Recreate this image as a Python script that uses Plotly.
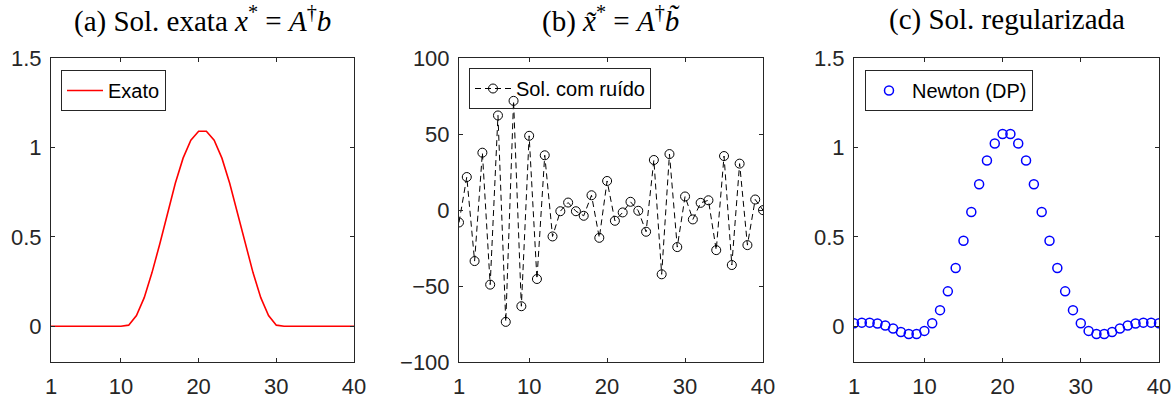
import plotly.graph_objects as go

# sample index shared by the three panels
idx = list(range(1, 41))

# (a) exact solution
x_exact = [0, 0, 0, 0, 0, 0, 0, 0, 0, 0,
           0.006, 0.06, 0.16, 0.30, 0.46, 0.63, 0.80, 0.94, 1.04, 1.09,
           1.09, 1.04, 0.94, 0.80, 0.63, 0.46, 0.30, 0.16, 0.06, 0.006,
           0, 0, 0, 0, 0, 0, 0, 0, 0, 0]

# (b) naive solution with noisy data
x_noisy = [-8.2, 21.7, -33.6, 37.7, -49.1, 62.2, -73.6, 71.8, -63.3, 48.8,
           -45.4, 36.0, -17.4, -0.8, 4.9, -0.8, -3.8, 9.7, -18.3, 19.1,
           -7.1, -1.6, 5.4, -0.5, -14.3, 32.9, -42.3, 36.8, -24.4, 8.9,
           -6.2, 4.7, 6.4, -26.4, 35.5, -36.2, 30.5, -23.1, 6.9, -0.1]

# (c) regularized solution (Newton, discrepancy principle)
x_newton = [0.017, 0.020, 0.020, 0.015, 0.004, -0.013, -0.032, -0.043, -0.043, -0.026,
            0.017, 0.090, 0.195, 0.326, 0.478, 0.639, 0.794, 0.927, 1.022, 1.075,
            1.075, 1.022, 0.927, 0.794, 0.639, 0.478, 0.326, 0.195, 0.090, 0.017,
            -0.026, -0.043, -0.043, -0.032, -0.013, 0.004, 0.015, 0.020, 0.020, 0.017]

titles = [
    "(a) Sol. exata <i>x</i><sup>*</sup> = <i>A</i><sup>†</sup><i>b</i>",
    "(b) <i>x\u0303</i><sup>*</sup> = <i>A</i><sup>†</sup><i>b\u0303</i>",
    "(c) Sol. regularizada",
]
legend_names = ["Exato", "Sol. com ruído", "Newton (DP)"]
x_ticks = [1, 10, 20, 30, 40]
y_ticks_ab = [0, 0.5, 1, 1.5]
y_ticks_b = [-100, -50, 0, 50, 100]

W, H = 1173, 398
AX = "#262626"
SANS = "Liberation Sans, Arial, sans-serif"
SERIF = "Liberation Serif, Times New Roman, serif"

# panel pixel boxes (left, right) and shared (top, bottom)
panels = [(51, 354), (459, 763), (854, 1159)]
top, bottom = 58, 362

fig = go.Figure()

fig.add_trace(go.Scatter(x=idx, y=x_exact, mode="lines", name=legend_names[0],
                         line=dict(color="#FF0000", width=1.6),
                         xaxis="x", yaxis="y", legend="legend"))
fig.add_trace(go.Scatter(x=idx, y=x_noisy, mode="lines+markers", name=legend_names[1],
                         line=dict(color="black", width=1, dash="6px,4px"),
                         marker=dict(symbol="circle-open", size=9, color="black",
                                     line=dict(width=1)),
                         xaxis="x2", yaxis="y2", legend="legend2"))
fig.add_trace(go.Scatter(x=idx, y=x_newton, mode="markers", name=legend_names[2],
                         marker=dict(symbol="circle-open", size=9, color="#0000FF",
                                     line=dict(width=1.5)),
                         xaxis="x3", yaxis="y3", legend="legend3"))

ydom = [1 - bottom / H, 1 - top / H]
axis_common = dict(showline=True, linecolor=AX, linewidth=1, mirror="ticks",
                   ticks="inside", ticklen=4, tickcolor=AX, tickwidth=1,
                   showgrid=False, zeroline=False, automargin=False,
                   tickfont=dict(family=SANS, size=22, color=AX))

layout = dict(width=W, height=H,
              margin=dict(l=0, r=0, t=0, b=0, pad=0, autoexpand=False),
              paper_bgcolor="white", plot_bgcolor="white", showlegend=True)

yranges = [[-0.2, 1.5], [-100, 100], [-0.2, 1.5]]
yticks = [y_ticks_ab, y_ticks_b, y_ticks_ab]
for i, (l, r) in enumerate(panels):
    s = "" if i == 0 else str(i + 1)
    layout["xaxis" + s] = dict(axis_common, domain=[l / W, r / W], range=[1, 40],
                               tickvals=x_ticks, ticklabelstandoff=5,
                               anchor="y" + s)
    layout["yaxis" + s] = dict(axis_common, domain=ydom, range=yranges[i],
                               tickvals=yticks[i], ticklabelstandoff=4,
                               anchor="x" + s)

legend_pos = [(61, 70), (469, 68), (865, 70)]
legend_bg = ["white", "rgba(255,255,255,0)", "white"]
for i, (lx, ly) in enumerate(legend_pos):
    key = "legend" if i == 0 else "legend" + str(i + 1)
    layout[key] = dict(x=lx / W, y=1 - ly / H, xanchor="left", yanchor="top",
                       bgcolor=legend_bg[i], bordercolor=AX, borderwidth=1,
                       font=dict(family=SANS, size=20, color="black"),
                       itemwidth=36)

fig.update_layout(**layout)

for i, (l, r) in enumerate(panels):
    fig.add_annotation(text=titles[i], x=(l + r) / 2 / W, y=1 - 19 / H,
                       xref="paper", yref="paper", showarrow=False,
                       xanchor="center", yanchor="middle",
                       font=dict(family=SERIF, size=29, color="black"))

fig.write_html("out.html")
